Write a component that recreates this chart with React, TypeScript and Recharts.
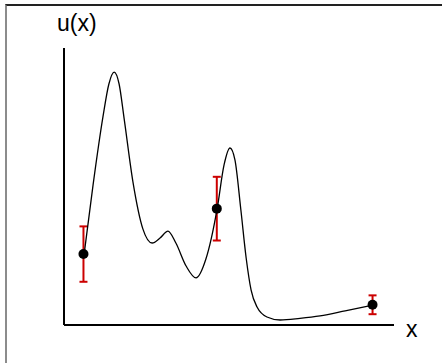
import { ComposedChart, Line, Scatter, ErrorBar, XAxis, YAxis } from "recharts";

// curve u(x) (x and y both on a 0..10 scale)
const curveX = [
  0.61, 0.88, 1.18, 1.36, 1.52, 1.67, 1.82, 2.09, 2.39, 2.67, 2.91, 3.15, 3.39,
  3.7, 4.0, 4.3, 4.64, 4.85, 5.03, 5.18, 5.36, 5.52, 5.67, 5.85, 6.15, 6.55,
  7.15, 7.76, 8.52, 9.36,
];
const curveY = [
  2.56, 5.05, 7.51, 8.7, 9.13, 8.7, 7.47, 5.16, 3.47, 2.96, 3.14, 3.39, 2.96,
  2.13, 1.7, 2.38, 4.19, 5.78, 6.39, 5.96, 4.15, 2.42, 1.26, 0.65, 0.29, 0.18,
  0.24, 0.33, 0.51, 0.72,
];

// observations with error bars
const obsX = [0.59, 4.63, 9.35];
const obsY = [2.56, 4.2, 0.73];
const obsErr = [1.0, 1.15, 0.34];

const curve = curveX.map((x, i) => ({ x, y: curveY[i] }));
const obs = obsX.map((x, i) => ({ x, y: obsY[i], err: obsErr[i] }));

const Dot = (p: any) => <circle cx={p.cx} cy={p.cy} r={5} fill="#000" />;

export default function App() {
  return (
    <div
      style={{
        position: "absolute",
        left: 0,
        top: 0,
        width: 442,
        height: 363,
        overflow: "hidden",
        background: "#fff",
      }}
    >
      <div
        style={{
          position: "absolute",
          left: 5,
          top: 4,
          width: 600,
          height: 600,
          borderLeft: "2px solid #8c8c8c",
          borderTop: "2px solid #222",
        }}
      />
      <div style={{ position: "absolute", left: 0, top: 0 }}>
        <ComposedChart
          width={442}
          height={363}
          margin={{ top: 48, left: 63, right: 48, bottom: 37 }}
        >
          <XAxis
            type="number"
            dataKey="x"
            domain={[0, 10]}
            height={1}
            tick={false}
            tickLine={false}
            axisLine={{ stroke: "#000", strokeWidth: 2 }}
          />
          <YAxis
            type="number"
            dataKey="y"
            domain={[0, 10]}
            width={1}
            tick={false}
            tickLine={false}
            axisLine={{ stroke: "#000", strokeWidth: 2 }}
          />
          <Scatter data={obs} dataKey="y" shape={Dot} isAnimationActive={false}>
            <ErrorBar
              dataKey="err"
              direction="y"
              stroke="#cc0000"
              strokeWidth={2}
              width={4}
            />
          </Scatter>
          <Line
            data={curve}
            dataKey="y"
            type="monotone"
            stroke="#000"
            strokeWidth={1.3}
            dot={false}
            activeDot={false}
            isAnimationActive={false}
          />
        </ComposedChart>
      </div>
      <svg
        width={442}
        height={363}
        style={{ position: "absolute", left: 0, top: 0, pointerEvents: "none" }}
      >
        <text
          x={57}
          y={31}
          fontSize={23}
          fontFamily="'Liberation Sans', Arial, sans-serif"
          fill="#000"
        >
          u(x)
        </text>
        <text
          x={406}
          y={337}
          fontSize={23}
          fontFamily="'Liberation Sans', Arial, sans-serif"
          fill="#000"
        >
          x
        </text>
      </svg>
    </div>
  );
}
